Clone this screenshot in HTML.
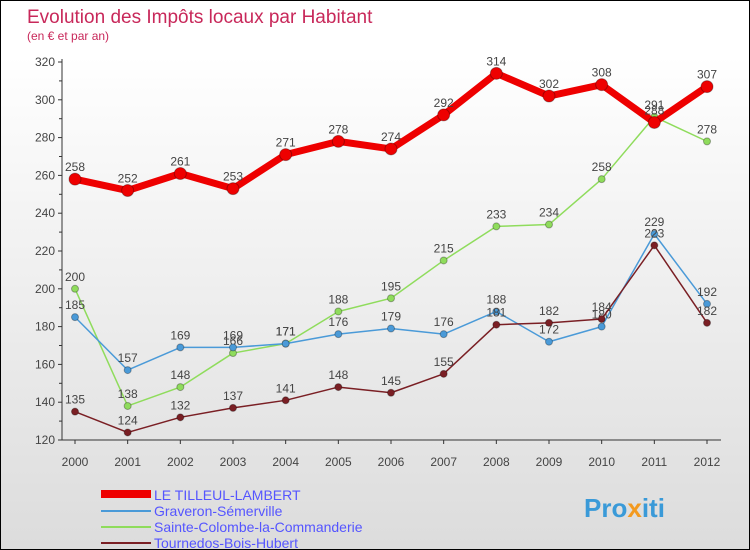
<!DOCTYPE html>
<html><head><meta charset="utf-8"><style>
body{margin:0}
#c{width:748px;height:548px;border:1px solid #000;background:linear-gradient(#fff,#fff 10%,#dcdcdc);position:relative;font-family:"Liberation Sans","DejaVu Sans",sans-serif;overflow:hidden}
</style></head><body>
<div id="c">
<svg id="s" width="748" height="548">
<text x="26" y="22" font-size="19" fill="#c8285a">Evolution des Impôts locaux par Habitant</text>
<text x="26" y="39" font-size="12" fill="#c8285a">(en € et par an)</text>
<g id="ax"></g><g id="ser"></g>
<g font-size="14">
<line x1="100" y1="493" x2="150" y2="493" stroke="#e00" stroke-width="8"/>
<text x="153" y="499" fill="#55f">LE TILLEUL-LAMBERT</text>
<line x1="100" y1="510" x2="150" y2="510" stroke="#4a9ad8" stroke-width="2"/>
<text x="153" y="515" fill="#55f">Graveron-Sémerville</text>
<line x1="100" y1="526" x2="150" y2="526" stroke="#8fdc5c" stroke-width="2"/>
<text x="153" y="531" fill="#55f">Sainte-Colombe-la-Commanderie</text>
<line x1="100" y1="542" x2="150" y2="542" stroke="#7a1f24" stroke-width="2"/>
<text x="153" y="547" fill="#55f">Tournedos-Bois-Hubert</text>
</g>
<text x="583" y="516" font-size="26" font-weight="bold" fill="#3a9ad8">Pro<tspan fill="#f39a1f">x</tspan>iti</text>
</svg></div>
<script>
const years=[2000,2001,2002,2003,2004,2005,2006,2007,2008,2009,2010,2011,2012];
const yTicks=[120,140,160,180,200,220,240,260,280,300,320];
const tilleul=[258,252,261,253,271,278,274,292,314,302,308,288,307];
const graveron=[185,157,169,169,171,176,179,176,188,172,180,229,192];
const sainte=[200,138,148,166,171,188,195,215,233,234,258,291,278];
const tournedos=[135,124,132,137,141,148,145,155,181,182,184,223,182];
const NS='http://www.w3.org/2000/svg';
const X=i=>74+i*(706-74)/12, Y=v=>439-(v-120)*(439-61)/200;
function mk(t,a,p){const e=document.createElementNS(NS,t);for(const k in a)e.setAttribute(k,a[k]);p.appendChild(e);return e;}
const ax=document.getElementById('ax'),ser=document.getElementById('ser');
let l=mk('line',{x1:61,y1:58,x2:61,y2:439,stroke:'#333'},ax);


l=mk('line',{x1:61,y1:439,x2:720,y2:439,stroke:'#333'},ax);


yTicks.forEach((v,k)=>{mk('line',{x1:57,y1:Y(v),x2:61,y2:Y(v),stroke:'#333'},ax);
if(k>0)mk('line',{x1:58,y1:Y(v)+18.9,x2:61,y2:Y(v)+18.9,stroke:'#333'},ax);
const t=mk('text',{x:54,y:Y(v)+4,'font-size':12,'text-anchor':'end',fill:'#444'},ax);t.textContent=v;

});
years.forEach((yr,i)=>{mk('line',{x1:X(i),y1:439,x2:X(i),y2:443,stroke:'#333'},ax);
const t=mk('text',{x:X(i),y:465,'font-size':12,'text-anchor':'middle',fill:'#444'},ax);t.textContent=yr;

});
function series(d,col,w,r,name){const g=mk('g',{},ser);


mk('polyline',{points:d.map((v,i)=>X(i)+','+Y(v)).join(' '),fill:'none',stroke:col,'stroke-width':w,'stroke-linejoin':'round'},g);
d.forEach((v,i)=>{const c=mk('circle',{cx:X(i),cy:Y(v),r:r,fill:col,stroke:'rgba(0,0,0,0.3)'},g);


const t=mk('text',{x:X(i),y:Y(v)-8,'font-size':12,'text-anchor':'middle',fill:'#444'},g);t.textContent=v;

});}
series(sainte,'#8fdc5c',1.5,3.5,'sainte-colombe-series');
series(graveron,'#4a9ad8',1.5,3.5,'graveron-series');
series(tournedos,'#7a1f24',1.5,3.5,'tournedos-series');
series(tilleul,'#e00',7,6,'tilleul-series');
</script>
</body></html>
